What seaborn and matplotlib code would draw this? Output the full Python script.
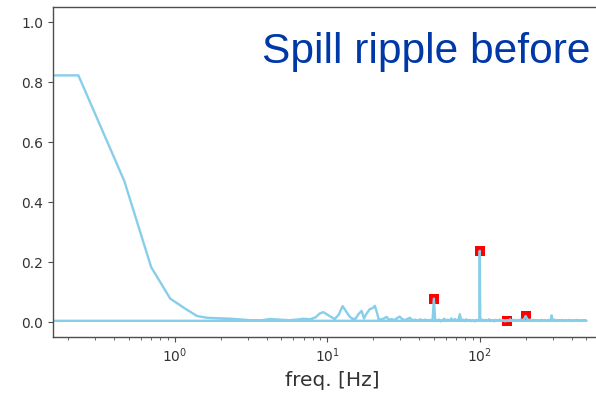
import matplotlib
matplotlib.use("Agg")
import matplotlib.pyplot as plt
import seaborn as sns
import pandas as pd

# Spectrum (FFT order: DC first, positive bins, then wrap back to 0)
freq = [0, 0.233, 0.466, 0.699, 0.932, 1.165, 1.398, 1.631, 1.864, 2.10, 2.33,
        2.8, 3.26, 3.73, 4.2, 4.9, 5.6, 6.3, 7.0, 7.7, 8.4, 8.9, 9.4, 9.9, 10.5,
        11.2, 11.9, 12.6, 13.3, 14.0, 14.7, 15.4, 16.0, 16.8, 17.4, 18.2, 19.0,
        19.8, 20.5, 21.2, 21.7, 22.6, 23.5, 24.5, 25.4, 26.5, 27.5, 28.5, 29.8,
        31.0, 32.2, 33.5, 34.8, 36.2, 37.7, 39.2, 40.8, 42.4, 44.0, 45.7, 47.4,
        49.0, 50.0, 51.0, 52.5, 54.0, 55.5, 57.0, 58.6, 60.2, 61.8, 63.5, 65.2,
        67.0, 68.8, 70.6, 72.4, 74.0, 75.5, 77.5, 79.5, 81.5, 83.6, 85.8, 88.0,
        90.3, 92.6, 95.0, 97.4, 99.3, 100.0, 100.7, 103, 106, 109, 112, 115, 118,
        121, 124, 127, 131, 135, 139, 143, 147, 150, 154, 158, 162, 166, 171,
        176, 181, 186, 191, 196, 200, 204, 209, 215, 221, 227, 233, 240, 247,
        254, 261, 268, 276, 284, 292, 296, 300, 309, 318, 327, 336, 346, 356,
        366, 377, 388, 399, 411, 423, 435, 448, 461, 474, 488, 502, 0]
amp = [0.822, 0.822, 0.47, 0.183, 0.078, 0.045, 0.02, 0.014, 0.013, 0.012, 0.011,
       0.008, 0.005, 0.006, 0.010, 0.008, 0.006, 0.008, 0.011, 0.009, 0.016, 0.028,
       0.033, 0.026, 0.018, 0.010, 0.025, 0.053, 0.035, 0.018, 0.010, 0.012, 0.026,
       0.037, 0.012, 0.030, 0.043, 0.046, 0.054, 0.030, 0.010, 0.008, 0.012, 0.017,
       0.007, 0.010, 0.006, 0.012, 0.018, 0.010, 0.006, 0.010, 0.014, 0.006, 0.008,
       0.004, 0.009, 0.005, 0.008, 0.004, 0.007, 0.005, 0.078, 0.006, 0.004, 0.008,
       0.002, 0.006, 0.011, 0.003, 0.008, 0.004, 0.012, 0.003, 0.010, 0.004, 0.007,
       0.026, 0.005, 0.008, 0.003, 0.009, 0.004, 0.007, 0.003, 0.006, 0.002, 0.007,
       0.004, 0.005, 0.237, 0.004, 0.008, 0.003, 0.007, 0.004, 0.009, 0.003, 0.006,
       0.002, 0.007, 0.004, 0.008, 0.003, 0.006, 0.002, 0.006, 0.003, 0.009, 0.004,
       0.008, 0.003, 0.007, 0.004, 0.009, 0.005, 0.011, 0.020, 0.012, 0.005, 0.008,
       0.003, 0.007, 0.004, 0.006, 0.003, 0.007, 0.004, 0.006, 0.003, 0.007, 0.005,
       0.022, 0.005, 0.008, 0.003, 0.006, 0.004, 0.007, 0.003, 0.006, 0.004, 0.007,
       0.003, 0.006, 0.004, 0.007, 0.003, 0.006, 0.004, 0.006, 0.004, 0.004]

# Detected harmonic peaks
peak_freq = [50, 100, 150, 200]
peak_amp = [0.078, 0.237, 0.005, 0.020]

yticks = [0.0, 0.2, 0.4, 0.6, 0.8, 1.0]
title_text = "Spill ripple before"
xlabel_text = "freq. [Hz]"

sns.set_theme(style="ticks", rc={
    "axes.edgecolor": "0.3",
    "axes.linewidth": 1.0,
    "xtick.color": "0.3",
    "ytick.color": "0.3",
    "xtick.labelcolor": "0.2",
    "ytick.labelcolor": "0.2",
    "text.color": "0.2",
    "axes.labelcolor": "0.2",
    "xtick.major.size": 3.5,
    "ytick.major.size": 3.5,
    "xtick.minor.size": 2.0,
    "xtick.major.width": 0.8,
    "ytick.major.width": 0.8,
    "xtick.minor.width": 0.6,
    "xtick.labelsize": 10,
    "ytick.labelsize": 10,
    "axes.labelsize": 14.5,
})
plt.rcParams["font.family"] = ["DejaVu Sans"]

df = pd.DataFrame({"freq": freq, "amp": amp})
pk = pd.DataFrame({"freq": peak_freq, "amp": peak_amp})

fig = plt.figure(figsize=(5.96, 3.96), dpi=100)
ax = fig.add_axes([53 / 596, 1 - 337 / 396, (612 - 53) / 596, (337 - 7) / 396])

sns.scatterplot(data=pk, x="freq", y="amp", marker="s", color="red",
                s=55, linewidth=0, ax=ax, zorder=1)
sns.lineplot(data=df, x="freq", y="amp", sort=False, estimator=None,
             color="skyblue", linewidth=1.7, ax=ax, zorder=2)

ax.set_xscale("log")
ax.set_ylim(-0.05, 1.05)
ax.set_yticks(yticks)
ax.set_ylabel("")
ax.set_xlabel(xlabel_text)
ax.spines["right"].set_visible(False)

fig.text(262 / 596, 1 - 63 / 396, title_text, color="#0038A8",
         fontsize=30.6, family="Liberation Sans", ha="left", va="baseline")

fig.savefig("out.png", dpi=100)
